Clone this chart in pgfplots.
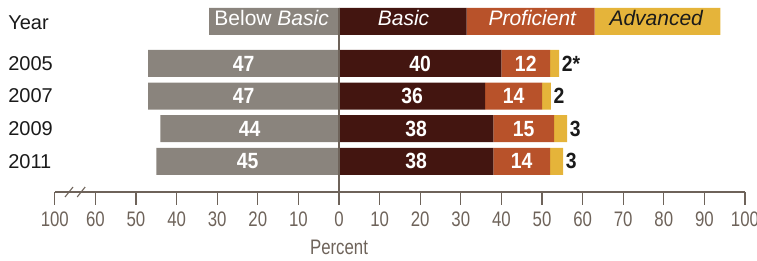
\documentclass[border=0pt]{standalone}
\usepackage{pgfplots}
\pgfplotsset{compat=1.18}
\usepackage{fontspec}
\setmainfont{Liberation Sans}
\newfontfamily\condfont{Liberation Sans}[FakeStretch=0.8]
\newfontfamily\numfont{Liberation Sans}[FakeStretch=0.88]
\definecolor{bbasic}{HTML}{8A847D}
\definecolor{basic}{HTML}{431510}
\definecolor{prof}{HTML}{B8522A}
\definecolor{adv}{HTML}{E5B43A}
\definecolor{axc}{HTML}{6E635A}
\definecolor{txt}{HTML}{1A1A1A}
\pgfplotsset{
  common/.style={scale only axis, width=690.2bp, height=184bp,
    xmin=-70, xmax=100, ymin=-0.942, ymax=4.702, clip=false},
}
\tikzset{
  wnum/.style={font={\numfont\bfseries\fontsize{22bp}{24bp}\selectfont}, text=white, inner sep=0pt},
  bnum/.style={font={\numfont\bfseries\fontsize{22bp}{24bp}\selectfont}, text=txt, inner sep=0pt, anchor=west, xshift=2.5bp},
  leg/.style={font={\fontsize{21bp}{24bp}\selectfont}, inner sep=0pt, anchor=base},
  yr/.style={font={\fontsize{20bp}{24bp}\selectfont}, text=txt, inner sep=0pt, anchor=west},
}
\begin{document}
\begin{tikzpicture}
% Below Basic (negative side)
\begin{axis}[common, hide axis, xbar, bar width=27bp]
\addplot[draw=none, fill=bbasic] coordinates {(-47,3) (-47,2) (-44,1) (-45,0) (-32,4.288)};
\end{axis}
% Basic / Proficient / Advanced stacked
\begin{axis}[common, xbar stacked, bar width=27bp,
  axis x line*=bottom, axis y line=none,
  x axis line style={axc, line width=1.3bp},
  xtick={-70,-60,-50,-40,-30,-20,-10,0,10,20,30,40,50,60,70,80,90,100},
  xticklabels={100,60,50,40,30,20,10,0,10,20,30,40,50,60,70,80,90,100},
  tick align=outside, major tick length=12.5bp,
  xtick style={axc, line width=1.3bp},
  xticklabel style={font={\condfont\fontsize{21bp}{24bp}\selectfont}, text=axc, inner sep=0pt, yshift=-7bp},
  ytick=\empty]
\addplot[draw=none, fill=basic] coordinates {(40,3) (36,2) (38,1) (38,0) (31.45,4.288)};
\addplot[draw=none, fill=prof] coordinates {(12,3) (14,2) (15,1) (14,0) (31.5,4.288)};
\addplot[draw=none, fill=adv] coordinates {(2.2,3) (2.2,2) (3.2,1) (3.2,0) (31.0,4.288)};
\end{axis}
% text and decorations on top
\begin{axis}[common, hide axis]
\draw[axc, line width=1.3bp] (axis cs:0,-0.942) -- (axis cs:0,4.702);
\draw[axc, line width=1.1bp] (axis cs:-66.5,-0.942) ++(-4bp,-5bp) -- ++(8bp,10bp);
\draw[axc, line width=1.1bp] (axis cs:-63.5,-0.942) ++(-4bp,-5bp) -- ++(8bp,10bp);
% values
\node[wnum] at (axis cs:-23.5,3) {47};
\node[wnum] at (axis cs:-23.5,2) {47};
\node[wnum] at (axis cs:-22,1) {44};
\node[wnum] at (axis cs:-22.5,0) {45};
\node[wnum] at (axis cs:20,3) {40};
\node[wnum] at (axis cs:18,2) {36};
\node[wnum] at (axis cs:19,1) {38};
\node[wnum] at (axis cs:19,0) {38};
\node[wnum] at (axis cs:46,3) {12};
\node[wnum] at (axis cs:43,2) {14};
\node[wnum] at (axis cs:45.5,1) {15};
\node[wnum] at (axis cs:45,0) {14};
\node[bnum] at (axis cs:54.2,3) {2*};
\node[bnum] at (axis cs:52.2,2) {2};
\node[bnum] at (axis cs:56.2,1) {3};
\node[bnum] at (axis cs:55.2,0) {3};
% legend texts
\node[leg, text=white] at (axis cs:-16.6,4.159) {Below \textit{Basic}};
\node[leg, text=white] at (axis cs:15.9,4.159) {\textit{Basic}};
\node[leg, text=white] at (axis cs:47.7,4.159) {\textit{Proficient}};
\node[leg, text=txt] at (axis cs:78.2,4.159) {\textit{Advanced}};
% years
\node[yr, anchor=base west] at (axis cs:-81.5,4.028) {Year};
\node[yr] at (axis cs:-81.5,3) {2005};
\node[yr] at (axis cs:-81.5,2) {2007};
\node[yr] at (axis cs:-81.5,1) {2009};
\node[yr] at (axis cs:-81.5,0) {2011};
\node[anchor=north, inner sep=0pt, yshift=-48bp, text=axc, font={\condfont\fontsize{21bp}{24bp}\selectfont}] at (axis cs:0,-0.942) {Percent};
\end{axis}
\pgfresetboundingbox
\path (-54.8bp,-69bp) rectangle (702.2bp,192bp);
\end{tikzpicture}
\end{document}
